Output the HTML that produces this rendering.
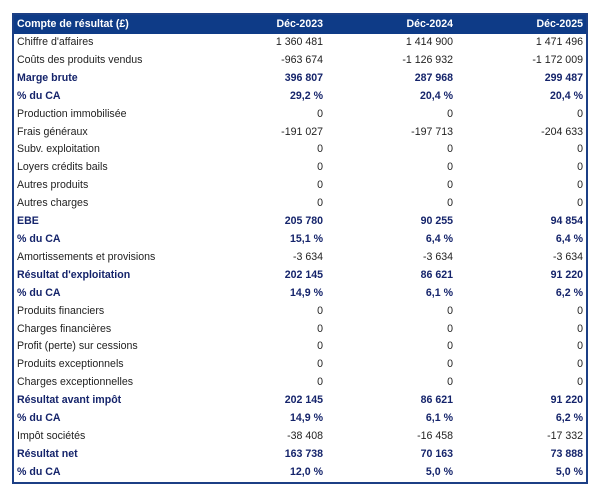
<!DOCTYPE html>
<html><head><meta charset="utf-8"><style>
body{margin:0;background:#fff;width:600px;height:495px;overflow:hidden}
table{position:absolute;left:12px;top:13px;width:574px;border-collapse:collapse;table-layout:fixed;border:2px solid #1c3f85;font-family:"Liberation Sans",sans-serif;font-size:10.6px;color:#222}
td{height:17.9px;padding:0 3px;white-space:nowrap;line-height:17.9px;overflow:hidden}
tr.h td{background:#0e3b87;color:#fff;font-weight:bold;height:19px}
td.n{text-align:right}
tr.b td{color:#15246b;font-weight:bold}
</style></head><body>
<table>
<colgroup><col style="width:183px"><col style="width:130px"><col style="width:130px"><col style="width:131px"></colgroup>
<tr class="h"><td>Compte de résultat (£)</td><td class="n">Déc-2023</td><td class="n">Déc-2024</td><td class="n">Déc-2025</td></tr>
<tr><td>Chiffre d'affaires</td><td class="n">1 360 481</td><td class="n">1 414 900</td><td class="n">1 471 496</td></tr>
<tr><td>Coûts des produits vendus</td><td class="n">-963 674</td><td class="n">-1 126 932</td><td class="n">-1 172 009</td></tr>
<tr class="b"><td>Marge brute</td><td class="n">396 807</td><td class="n">287 968</td><td class="n">299 487</td></tr>
<tr class="b"><td>% du CA</td><td class="n">29,2 %</td><td class="n">20,4 %</td><td class="n">20,4 %</td></tr>
<tr><td>Production immobilisée</td><td class="n">0</td><td class="n">0</td><td class="n">0</td></tr>
<tr><td>Frais généraux</td><td class="n">-191 027</td><td class="n">-197 713</td><td class="n">-204 633</td></tr>
<tr><td>Subv. exploitation</td><td class="n">0</td><td class="n">0</td><td class="n">0</td></tr>
<tr><td>Loyers crédits bails</td><td class="n">0</td><td class="n">0</td><td class="n">0</td></tr>
<tr><td>Autres produits</td><td class="n">0</td><td class="n">0</td><td class="n">0</td></tr>
<tr><td>Autres charges</td><td class="n">0</td><td class="n">0</td><td class="n">0</td></tr>
<tr class="b"><td>EBE</td><td class="n">205 780</td><td class="n">90 255</td><td class="n">94 854</td></tr>
<tr class="b"><td>% du CA</td><td class="n">15,1 %</td><td class="n">6,4 %</td><td class="n">6,4 %</td></tr>
<tr><td>Amortissements et provisions</td><td class="n">-3 634</td><td class="n">-3 634</td><td class="n">-3 634</td></tr>
<tr class="b"><td>Résultat d'exploitation</td><td class="n">202 145</td><td class="n">86 621</td><td class="n">91 220</td></tr>
<tr class="b"><td>% du CA</td><td class="n">14,9 %</td><td class="n">6,1 %</td><td class="n">6,2 %</td></tr>
<tr><td>Produits financiers</td><td class="n">0</td><td class="n">0</td><td class="n">0</td></tr>
<tr><td>Charges financières</td><td class="n">0</td><td class="n">0</td><td class="n">0</td></tr>
<tr><td>Profit (perte) sur cessions</td><td class="n">0</td><td class="n">0</td><td class="n">0</td></tr>
<tr><td>Produits exceptionnels</td><td class="n">0</td><td class="n">0</td><td class="n">0</td></tr>
<tr><td>Charges exceptionnelles</td><td class="n">0</td><td class="n">0</td><td class="n">0</td></tr>
<tr class="b"><td>Résultat avant impôt</td><td class="n">202 145</td><td class="n">86 621</td><td class="n">91 220</td></tr>
<tr class="b"><td>% du CA</td><td class="n">14,9 %</td><td class="n">6,1 %</td><td class="n">6,2 %</td></tr>
<tr><td>Impôt sociétés</td><td class="n">-38 408</td><td class="n">-16 458</td><td class="n">-17 332</td></tr>
<tr class="b"><td>Résultat net</td><td class="n">163 738</td><td class="n">70 163</td><td class="n">73 888</td></tr>
<tr class="b"><td>% du CA</td><td class="n">12,0 %</td><td class="n">5,0 %</td><td class="n">5,0 %</td></tr>
</table>
</body></html>
